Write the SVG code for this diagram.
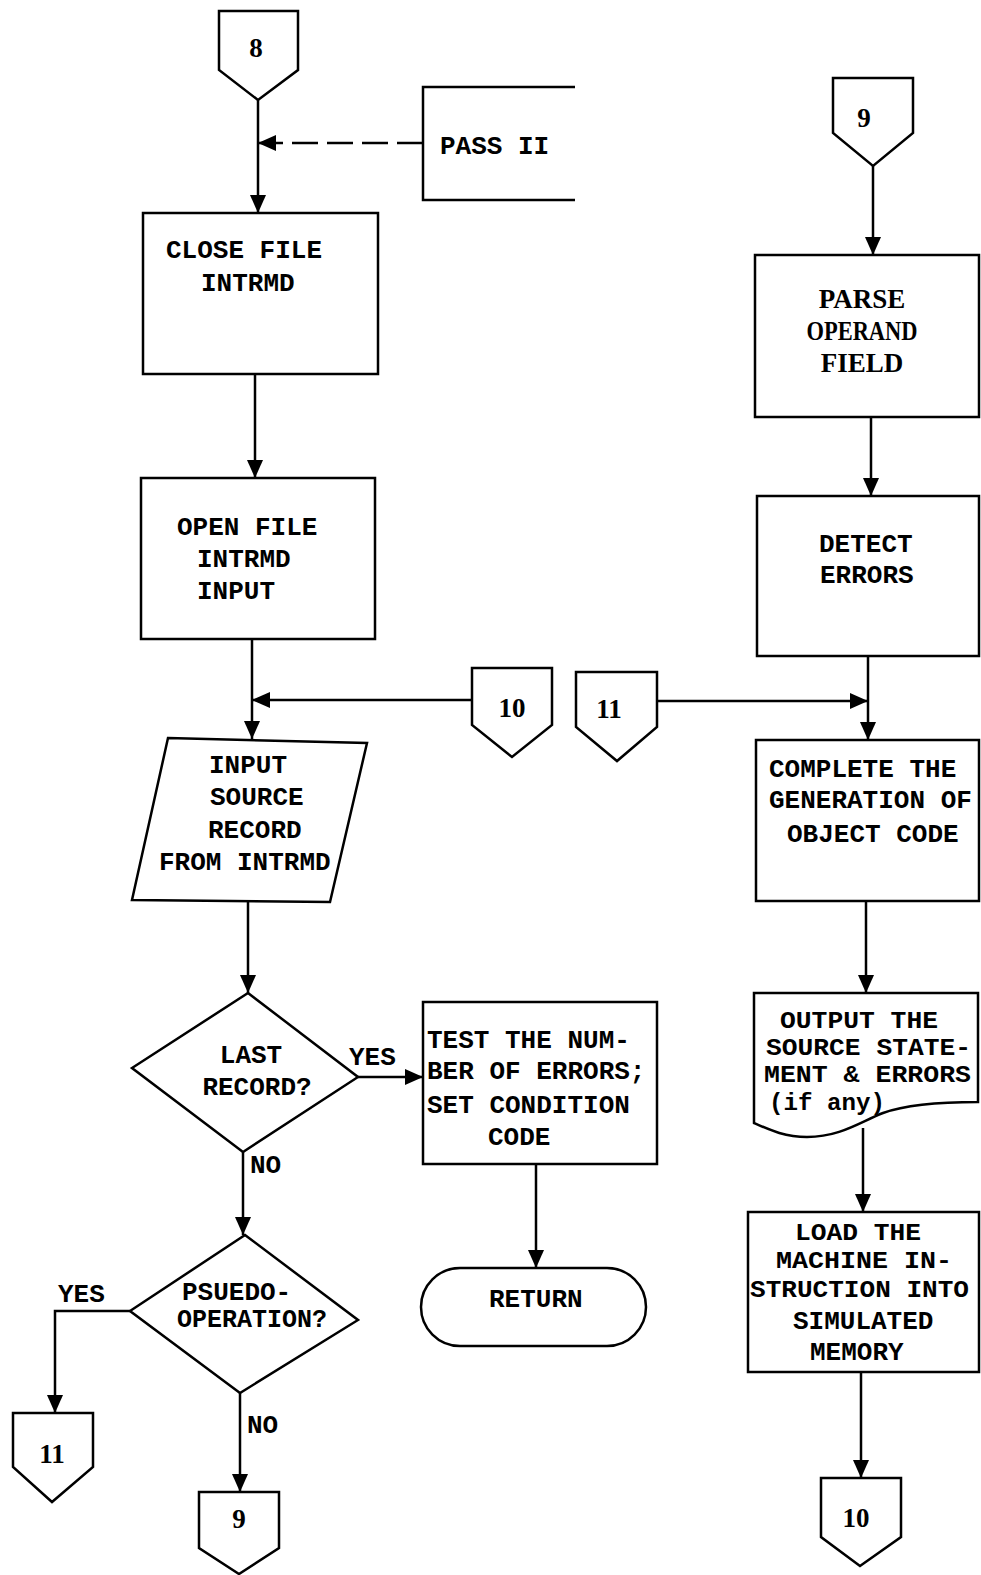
<svg xmlns="http://www.w3.org/2000/svg" width="981" height="1575" viewBox="0 0 981 1575">
<defs>
<marker id="arr" markerUnits="userSpaceOnUse" markerWidth="18" markerHeight="16" refX="18" refY="8" orient="auto">
<path d="M0,0 L18,8 L0,16 Z" fill="#000"/>
</marker>
<style>
.s{fill:#fff;stroke:#000;stroke-width:2.5;stroke-linejoin:miter}
.o{fill:none;stroke:#000;stroke-width:2.5}
.c{fill:none;stroke:#000;stroke-width:2.5;marker-end:url(#arr)}
.d{stroke-dasharray:26 9}
.t{font-family:"Liberation Mono","DejaVu Sans Mono",monospace;font-size:26px;font-weight:bold;fill:#000}
.sm{font-size:24px}
.r{font-family:"Liberation Serif","DejaVu Serif",serif;font-size:27px;font-weight:bold;fill:#000;text-anchor:middle}
</style>
</defs>
<rect width="981" height="1575" fill="#fff"/>

<g id="connectors">
<line class="c" x1="258" y1="100" x2="258" y2="213"/>
<line class="c d" x1="423" y1="143" x2="258" y2="143"/>
<line class="c" x1="255" y1="374" x2="255" y2="478"/>
<line class="c" x1="252" y1="639" x2="252" y2="739"/>
<line class="c" x1="472" y1="700" x2="252" y2="700"/>
<line class="c" x1="248" y1="901" x2="248" y2="993"/>
<line class="c" x1="358" y1="1077" x2="423" y2="1077"/>
<line class="c" x1="536" y1="1164" x2="536" y2="1268"/>
<line class="c" x1="243" y1="1152" x2="243" y2="1235"/>
<polyline class="c" points="130,1311 55,1311 55,1413"/>
<line class="c" x1="240" y1="1393" x2="240" y2="1492"/>
<line class="c" x1="873" y1="166" x2="873" y2="255"/>
<line class="c" x1="871" y1="417" x2="871" y2="496"/>
<line class="c" x1="868" y1="656" x2="868" y2="740"/>
<line class="c" x1="657" y1="701" x2="868" y2="701"/>
<line class="c" x1="866" y1="901" x2="866" y2="993"/>
<line class="c" x1="863" y1="1128" x2="863" y2="1212"/>
<line class="c" x1="861" y1="1372" x2="861" y2="1478"/>
<text class="t" x="349" y="1065">YES</text>
<text class="t" x="250" y="1173">NO</text>
<text class="t" x="58" y="1302">YES</text>
<text class="t" x="247" y="1433">NO</text>
</g>

<g id="conn8">
<polygon class="s" points="219,11 298,11 298,70 258,100 219,70"/>
<text class="r" x="256" y="57">8</text>
</g>

<g id="pass2">
<path class="o" d="M575,87 H423 V200 H575"/>
<text class="t" x="440" y="154">PASS II</text>
</g>

<g id="closefile">
<rect class="s" x="143" y="213" width="235" height="161"/>
<text class="t" x="166" y="258">CLOSE FILE</text>
<text class="t" x="201" y="291">INTRMD</text>
</g>

<g id="openfile">
<rect class="s" x="141" y="478" width="234" height="161"/>
<text class="t" x="177" y="535">OPEN FILE</text>
<text class="t" x="197" y="567">INTRMD</text>
<text class="t" x="197" y="599">INPUT</text>
</g>

<g id="conn10a">
<polygon class="s" points="472,668 552,668 552,725 512,757 472,725"/>
<text class="r" x="512" y="717">10</text>
</g>

<g id="conn11a">
<polygon class="s" points="576,672 657,672 657,727 617,761 576,727"/>
<text class="r" x="609" y="718">11</text>
</g>

<g id="inputrec">
<polygon class="s" points="168,738 367,743 330,902 132,900"/>
<text class="t" x="209" y="773">INPUT</text>
<text class="t" x="210" y="805">SOURCE</text>
<text class="t" x="208" y="838">RECORD</text>
<text class="t" x="159" y="870">FROM INTRMD</text>
</g>

<g id="lastrec">
<polygon class="s" points="248,993 358,1077 243,1152 132,1068"/>
<text class="t" x="251" y="1063" text-anchor="middle">LAST</text>
<text class="t" x="257" y="1095" text-anchor="middle">RECORD?</text>
</g>

<g id="testerr">
<rect class="s" x="423" y="1002" width="234" height="162"/>
<text class="t" x="427" y="1048">TEST THE NUM-</text>
<text class="t" x="427" y="1079">BER OF ERRORS;</text>
<text class="t" x="427" y="1113">SET CONDITION</text>
<text class="t" x="488" y="1145">CODE</text>
</g>

<g id="return">
<rect class="s" x="421" y="1268" width="225" height="78" rx="39" ry="39"/>
<text class="t" x="489" y="1307">RETURN</text>
</g>

<g id="pseudo">
<polygon class="s" points="245,1235 358,1320 240,1393 130,1311"/>
<text class="t" x="182" y="1300">PSUEDO-</text>
<text class="t" x="177" y="1327" textLength="150" lengthAdjust="spacingAndGlyphs">OPERATION?</text>
</g>

<g id="conn11b">
<polygon class="s" points="13,1413 93,1413 93,1467 52,1502 13,1467"/>
<text class="r" x="52" y="1463">11</text>
</g>

<g id="conn9b">
<polygon class="s" points="199,1492 279,1492 279,1548 239,1574 199,1548"/>
<text class="r" x="239" y="1528">9</text>
</g>

<g id="conn9a">
<polygon class="s" points="833,78 913,78 913,133 873,166 833,133"/>
<text class="r" x="864" y="127">9</text>
</g>

<g id="parse">
<rect class="s" x="755" y="255" width="224" height="162"/>
<text class="r" x="862" y="308">PARSE</text>
<text class="r" x="862" y="340" textLength="111" lengthAdjust="spacingAndGlyphs">OPERAND</text>
<text class="r" x="862" y="372">FIELD</text>
</g>

<g id="detect">
<rect class="s" x="757" y="496" width="222" height="160"/>
<text class="t" x="819" y="552">DETECT</text>
<text class="t" x="820" y="583">ERRORS</text>
</g>

<g id="complete">
<rect class="s" x="756" y="740" width="223" height="161"/>
<text class="t" x="769" y="777">COMPLETE THE</text>
<text class="t" x="769" y="808">GENERATION OF</text>
<text class="t" x="787" y="842">OBJECT CODE</text>
</g>

<g id="output">
<path class="s" d="M754,993 H978 V1102 C940,1102 905,1105 883,1113 C860,1122 840,1137 807,1137 C785,1137 770,1130 754,1123 Z"/>
<text class="t sm" x="780" y="1028" textLength="158" lengthAdjust="spacingAndGlyphs">OUTPUT THE</text>
<text class="t sm" x="766" y="1055" textLength="205" lengthAdjust="spacingAndGlyphs">SOURCE STATE-</text>
<text class="t sm" x="764" y="1082" textLength="207" lengthAdjust="spacingAndGlyphs">MENT &amp; ERRORS</text>
<text class="t sm" x="769" y="1110" textLength="116" lengthAdjust="spacingAndGlyphs">(if any)</text>
</g>

<g id="load">
<rect class="s" x="748" y="1212" width="231" height="160"/>
<text class="t sm" x="795" y="1240" textLength="126" lengthAdjust="spacingAndGlyphs">LOAD THE</text>
<text class="t sm" x="776" y="1268" textLength="176" lengthAdjust="spacingAndGlyphs">MACHINE IN-</text>
<text class="t sm" x="750" y="1297" textLength="219" lengthAdjust="spacingAndGlyphs">STRUCTION INTO</text>
<text class="t" x="793" y="1329">SIMULATED</text>
<text class="t" x="810" y="1360">MEMORY</text>
</g>

<g id="conn10b">
<polygon class="s" points="821,1478 901,1478 901,1537 860,1566 821,1537"/>
<text class="r" x="856" y="1527">10</text>
</g>
</svg>
